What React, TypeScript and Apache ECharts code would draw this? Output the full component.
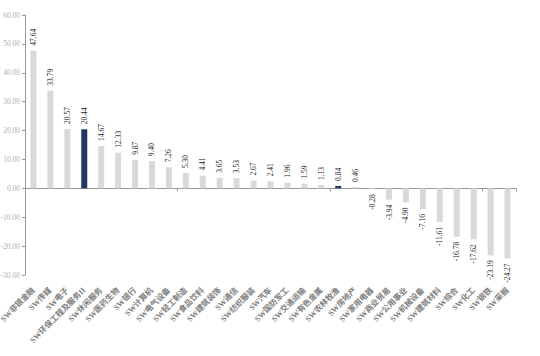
import React, { useEffect, useRef } from "react";
import * as echarts from "echarts";

const categories = [
  "SW非银金融", "SW传媒", "SW电子", "SW环保工程及服务II", "SW休闲服务", "SW医药生物",
  "SW银行", "SW计算机", "SW电气设备", "SW轻工制造", "SW食品饮料", "SW建筑装饰",
  "SW通信", "SW纺织服装", "SW汽车", "SW国防军工", "SW交通运输", "SW有色金属",
  "SW农林牧渔", "SW房地产", "SW家用电器", "SW商业贸易", "SW公用事业", "SW机械设备",
  "SW建筑材料", "SW综合", "SW化工", "SW钢铁", "SW采掘",
];
const values = [
  47.64, 33.79, 20.57, 20.44, 14.67, 12.33, 9.87, 9.4, 7.26, 5.3, 4.41, 3.65,
  3.53, 2.67, 2.41, 1.96, 1.59, 1.13, 0.84, 0.46, -0.28, -3.94, -4.9, -7.16,
  -11.61, -16.78, -17.62, -23.19, -24.27,
];
const highlighted = ["SW环保工程及服务II", "SW农林牧渔"];
const yMin = -30;
const yMax = 60;
const yInterval = 10;

const FONT = "'Liberation Serif', 'Noto Sans CJK SC', serif";

export default function App() {
  const ref = useRef<HTMLDivElement>(null);
  useEffect(() => {
    if (!ref.current) return;
    const chart = echarts.init(ref.current, undefined, { renderer: "svg" });
    const data = values.map((v, i) => ({
      value: v,
      itemStyle: { color: highlighted.includes(categories[i]) ? "#203864" : "#d9d9d9" },
      label: v >= 0
        ? { position: "top", align: "left", verticalAlign: "middle" }
        : { position: "bottom", align: "right", verticalAlign: "middle" },
    }));
    chart.setOption({
      animation: false,
      grid: { left: 25, right: 24, top: 15, bottom: 81, containLabel: false, outerBoundsMode: "none" },
      xAxis: [
        {
          type: "category",
          data: categories,
          axisLine: { onZero: true, lineStyle: { color: "#999999", width: 1 } },
          axisTick: { show: true, length: 3, lineStyle: { color: "#999999" } },
          axisLabel: { show: false },
        },
        {
          type: "category",
          data: categories,
          position: "bottom",
          axisLine: { show: false, onZero: false },
          axisTick: { show: false },
          axisLabel: {
            show: true,
            interval: 0,
            rotate: 45,
            margin: 14,
            fontSize: 8,
            fontWeight: "bold",
            color: "#808080",
            fontFamily: FONT,
          },
        },
      ],
      yAxis: {
        type: "value",
        min: yMin,
        max: yMax,
        interval: yInterval,
        splitLine: { show: false },
        axisLine: { show: true, lineStyle: { color: "#999999" } },
        axisTick: { show: true, length: 3, inside: false, lineStyle: { color: "#999999" } },
        axisLabel: {
          formatter: (v: number) => v.toFixed(2),
          fontSize: 7.5,
          color: "#b0b0b0",
          fontFamily: FONT,
          margin: 5,
        },
      },
      series: [
        {
          type: "bar",
          xAxisIndex: 0,
          barWidth: 6,
          data,
          label: {
            show: true,
            rotate: 90,
            distance: 5,
            fontSize: 7.5,
            color: "#262626",
            fontFamily: FONT,
            formatter: (p: any) => Number(p.value).toFixed(2),
          },
        },
      ],
    });
    return () => chart.dispose();
  }, []);
  return (
    <div style={{ position: "absolute", left: 0, top: 0 }}>
      <div ref={ref} style={{ width: 540, height: 356 }} />
    </div>
  );
}
